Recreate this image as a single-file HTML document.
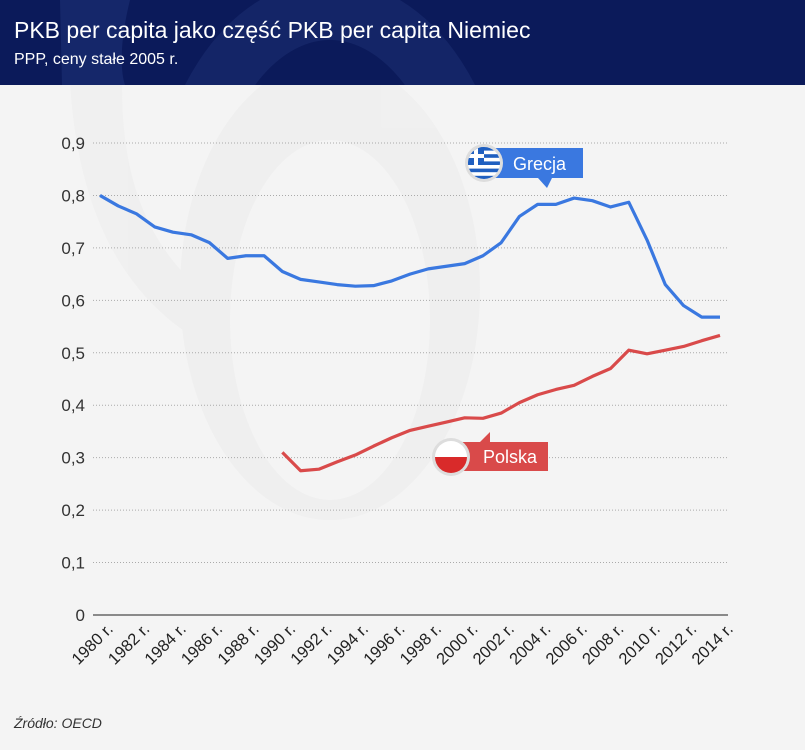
<!DOCTYPE html>
<html><head><meta charset="utf-8"><style>
body{margin:0;width:805px;height:750px;overflow:hidden;background:#f4f4f4;font-family:"Liberation Sans",sans-serif}
svg{display:block}
</style></head><body>
<svg width="805" height="750" viewBox="0 0 805 750">
<rect x="0" y="0" width="805" height="750" fill="#f4f4f4"/>
<g opacity="0.5">
<path d="M70,0 L130,0 C110,120 120,260 250,320 L270,370 C120,330 60,200 70,0 Z" fill="#ebebeb"/>
<ellipse cx="330" cy="290" rx="150" ry="230" fill="#ebebeb"/>
<ellipse cx="330" cy="320" rx="100" ry="180" fill="#f4f4f4"/>
</g>
<rect x="0" y="0" width="805" height="85" fill="#0b1a5a"/>
<path d="M60,0 L130,0 C120,40 120,70 125,85 L62,85 Z" fill="#1a2d70" opacity="0.7"/>
<clipPath id="hc"><rect x="0" y="0" width="805" height="85"/></clipPath>
<ellipse cx="330" cy="240" rx="150" ry="230" fill="none" stroke="#1a2d70" stroke-width="60" opacity="0.6" clip-path="url(#hc)"/>
<text x="14" y="38" fill="#fff" font-size="23">PKB per capita jako część PKB per capita Niemiec</text>
<text x="14" y="64" fill="#fff" font-size="16">PPP, ceny stałe 2005 r.</text>
<g id="grid"></g>
<g id="yt"></g>
<g id="xt"></g>
<g id="series"></g>
<text x="14" y="728" fill="#333" font-size="14" font-style="italic">Źródło: OECD</text>
</svg>
<script>
const years=[1980,1981,1982,1983,1984,1985,1986,1987,1988,1989,1990,1991,1992,1993,1994,1995,1996,1997,1998,1999,2000,2001,2002,2003,2004,2005,2006,2007,2008,2009,2010,2011,2012,2013,2014];
const greece=[0.80,0.78,0.765,0.74,0.73,0.725,0.71,0.68,0.685,0.685,0.655,0.64,0.635,0.63,0.627,0.628,0.637,0.65,0.66,0.665,0.67,0.685,0.71,0.76,0.783,0.783,0.795,0.79,0.778,0.787,0.715,0.63,0.59,0.568,0.568];
const polandYears=[1990,1991,1992,1993,1994,1995,1996,1997,1998,1999,2000,2001,2002,2003,2004,2005,2006,2007,2008,2009,2010,2011,2012,2013,2014];
const poland=[0.31,0.275,0.278,0.292,0.305,0.322,0.338,0.352,0.36,0.368,0.376,0.375,0.385,0.405,0.42,0.43,0.438,0.455,0.47,0.505,0.498,0.505,0.512,0.523,0.533];
const yTicks=[0,0.1,0.2,0.3,0.4,0.5,0.6,0.7,0.8,0.9];
const xTickYears=[1980,1982,1984,1986,1988,1990,1992,1994,1996,1998,2000,2002,2004,2006,2008,2010,2012,2014];
const NS='http://www.w3.org/2000/svg';
const X=y=>100+(y-1980)*(620/34);
const Y=v=>615-v*(472/0.9);
function mk(tag,attrs,parent){const e=document.createElementNS(NS,tag);for(const k in attrs)e.setAttribute(k,attrs[k]);parent.appendChild(e);return e;}
const grid=document.getElementById('grid'),yt=document.getElementById('yt'),xt=document.getElementById('xt'),ser=document.getElementById('series');
yTicks.forEach(v=>{
 const l=mk('line',{x1:93,x2:728,y1:Y(v),y2:Y(v),stroke:v===0?'#666':'#aaa','stroke-width':v===0?1.5:1,'stroke-dasharray':v===0?'':'1,2'},grid);
 
 
 const t=mk('text',{x:85,y:Y(v)+6,'text-anchor':'end','font-size':17,fill:'#333'},yt);
 t.textContent=String(v).replace('.',',');
 
 
});
xTickYears.forEach(yr=>{
 const t=mk('text',{transform:`translate(${X(yr)+14},630) rotate(-45)`,'text-anchor':'end','font-size':16.5,fill:'#222'},xt);
 t.textContent=yr+' r.';
 
 
});
const gp=mk('polyline',{points:years.map((y,i)=>X(y)+','+Y(greece[i])).join(' '),fill:'none',stroke:'#3a78e0','stroke-width':3.2,'stroke-linejoin':'round'},ser);


const pp=mk('polyline',{points:polandYears.map((y,i)=>X(y)+','+Y(poland[i])).join(' '),fill:'none',stroke:'#d94a4a','stroke-width':3.2,'stroke-linejoin':'round'},ser);


</script>
<svg width="805" height="750" style="position:absolute;left:0;top:0">
<g>
<path d="M485,148 L583,148 L583,178 L552,178 L547,188 L538,178 L485,178 Z" fill="#3a78e0"/>
<text x="513" y="170" fill="#fff" font-size="18">Grecja</text>
<circle cx="484" cy="163" r="19" fill="#ddd"/>
<clipPath id="gf"><circle cx="484" cy="163" r="16"/></clipPath>
<g clip-path="url(#gf)">
<rect x="468" y="147" width="32" height="32" fill="#fff"/>
<rect x="468" y="147" width="32" height="3.6" fill="#1f5fc0"/><rect x="468" y="154.2" width="32" height="3.6" fill="#1f5fc0"/><rect x="468" y="161.4" width="32" height="3.6" fill="#1f5fc0"/><rect x="468" y="168.6" width="32" height="3.6" fill="#1f5fc0"/><rect x="468" y="175.8" width="32" height="3.6" fill="#1f5fc0"/>
<rect x="468" y="147" width="16" height="18" fill="#1f5fc0"/>
<rect x="474" y="147" width="4" height="18" fill="#fff"/><rect x="468" y="154" width="16" height="4" fill="#fff"/>
</g></g>
<g>
<path d="M455,442 L480,442 L490,432 L490,442 L548,442 L548,471 L455,471 Z" fill="#d94a4a"/>
<text x="483" y="463" fill="#fff" font-size="18">Polska</text>
<circle cx="451" cy="457" r="19" fill="#ddd"/>
<clipPath id="pf"><circle cx="451" cy="457" r="16"/></clipPath>
<g clip-path="url(#pf)"><rect x="435" y="441" width="32" height="16" fill="#fff"/><rect x="435" y="457" width="32" height="16" fill="#d92a2a"/></g>
</g>
</svg>
</body></html>
